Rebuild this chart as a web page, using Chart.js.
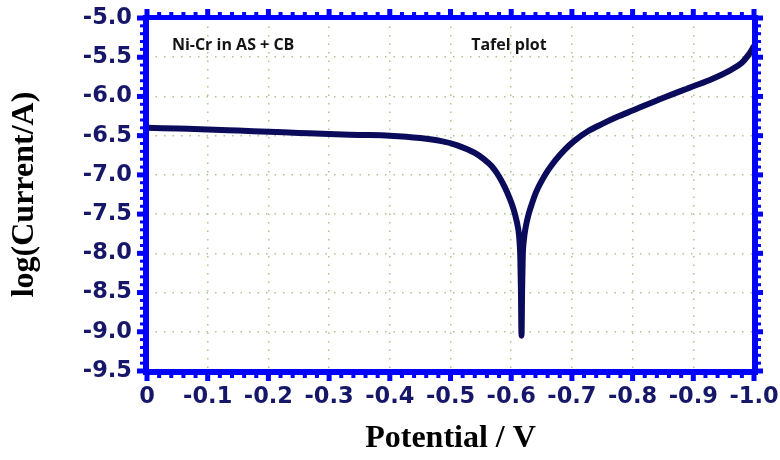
<!DOCTYPE html>
<html>
<head>
<meta charset="utf-8">
<script src="https://cdn.jsdelivr.net/npm/chart.js@4.4.1/dist/chart.umd.min.js"></script>
<style>
  html, body { margin: 0; padding: 0; background: #fff; }
  #wrap { width: 780px; height: 460px; }
</style>
</head>
<body>
<div id="wrap"><canvas id="tafel" width="780" height="460"></canvas></div>
<script>
// values
const potential = [0, -0.05, -0.1, -0.15, -0.2, -0.25, -0.3, -0.35, -0.4, -0.45, -0.485, -0.51, -0.54, -0.555, -0.568, -0.58, -0.589, -0.597, -0.604, -0.609, -0.613, -0.615, -0.616, -0.617,
                   -0.618, -0.619, -0.621, -0.624, -0.628, -0.634, -0.641, -0.65, -0.66, -0.672, -0.688, -0.705, -0.725, -0.75, -0.775, -0.8, -0.85, -0.9, -0.93, -0.96, -0.98, -0.99, -1.0];
const logCurrent = [-6.40, -6.41, -6.42, -6.435, -6.45, -6.465, -6.48, -6.49, -6.50, -6.53, -6.57, -6.62, -6.72, -6.80, -6.89, -7.02, -7.15, -7.29, -7.44, -7.59, -7.78, -8.05, -8.45, -9.05,
                    -8.45, -8.05, -7.82, -7.66, -7.52, -7.37, -7.22, -7.08, -6.95, -6.82, -6.68, -6.56, -6.45, -6.35, -6.26, -6.18, -6.02, -5.87, -5.78, -5.67, -5.57, -5.48, -5.36];
const xTickValues = [0, -0.1, -0.2, -0.3, -0.4, -0.5, -0.6, -0.7, -0.8, -0.9, -1.0];
const yTickValues = [-9.5, -9.0, -8.5, -8.0, -7.5, -7.0, -6.5, -6.0, -5.5, -5.0];
const notes = [
  { text: 'Ni-Cr in AS + CB', x: -0.041, y: -5.345 },
  { text: 'Tafel plot', x: -0.534, y: -5.345 }
];

const frameBlue = '#0000ff';
const navy = '#17176a';

// thick blue frame with ticks on all four sides
const framePlugin = {
  id: 'frame',
  afterDatasetsDraw(chart) {
    const { ctx, chartArea: a, scales } = chart;
    const xs = scales.x, ys = scales.y;
    ctx.save();
    ctx.fillStyle = frameBlue;
    ctx.fillRect(a.left - 4, a.top - 3, 6, a.bottom - a.top + 6);
    ctx.fillRect(a.right - 2, a.top - 3, 6, a.bottom - a.top + 6);
    ctx.fillRect(a.left - 4, a.top - 3, a.right - a.left + 8, 5);
    ctx.fillRect(a.left - 4, a.bottom - 2, a.right - a.left + 8, 6);

    const sub = 5;
    for (let i = 0; i < xTickValues.length; i++) {
      const px = xs.getPixelForValue(xTickValues[i]);
      ctx.fillRect(px - 2.5, a.bottom, 5, 10);
      ctx.fillRect(px - 2.5, a.top - 9, 5, 9);
      if (i < xTickValues.length - 1) {
        const step = (xTickValues[i + 1] - xTickValues[i]) / sub;
        for (let k = 1; k < sub; k++) {
          const mx = xs.getPixelForValue(xTickValues[i] + step * k);
          ctx.fillRect(mx - 2, a.bottom, 4, 7);
          ctx.fillRect(mx - 2, a.top - 6, 4, 6);
        }
      }
    }
    for (let i = 0; i < yTickValues.length; i++) {
      const py = ys.getPixelForValue(yTickValues[i]);
      ctx.fillRect(a.left - 10, py - 2.5, 10, 5);
      ctx.fillRect(a.right, py - 2.5, 9, 5);
      if (i < yTickValues.length - 1) {
        const step = (yTickValues[i + 1] - yTickValues[i]) / sub;
        for (let k = 1; k < sub; k++) {
          const my = ys.getPixelForValue(yTickValues[i] + step * k);
          ctx.fillRect(a.left - 7, my - 1.5, 7, 3);
          ctx.fillRect(a.right, my - 1.5, 7, 3);
        }
      }
    }

    ctx.fillStyle = '#141414';
    ctx.font = 'bold 16px "Open Sans"';
    ctx.textBaseline = 'middle';
    notes.forEach(n => {
      ctx.fillText(n.text, xs.getPixelForValue(n.x), ys.getPixelForValue(n.y));
    });
    ctx.restore();
  }
};

new Chart(document.getElementById('tafel'), {
  type: 'line',
  data: {
    datasets: [{
      data: potential.map((p, i) => ({ x: p, y: logCurrent[i] })),
      borderColor: '#0b0b5c',
      borderWidth: 6,
      pointRadius: 0,
      cubicInterpolationMode: 'monotone',
      borderCapStyle: 'round',
      borderJoinStyle: 'round',
      fill: false
    }]
  },
  options: {
    responsive: false,
    animation: false,
    layout: { padding: { top: 18, right: 26, left: 0, bottom: 0 } },
    plugins: { legend: { display: false }, tooltip: { enabled: false } },
    scales: {
      x: {
        type: 'linear',
        min: -1.0,
        max: 0,
        reverse: true,
        afterBuildTicks: s => { s.ticks = xTickValues.map(v => ({ value: v })); },
        afterFit: s => { s.height = 89; s.paddingLeft = 0; s.paddingRight = 0; },
        ticks: {
          color: navy,
          font: { family: 'DejaVu Sans', weight: 'bold', size: 22.5 },
          padding: 13,
          maxRotation: 0,
          autoSkip: false,
          callback: v => (v === 0 ? '0' : v.toFixed(1))
        },
        grid: { color: '#a9c78f', lineWidth: 1.5, drawTicks: false },
        border: { display: false, dash: [1.5, 7] },
        title: {
          display: true,
          text: 'Potential / V',
          color: '#000',
          font: { family: 'Liberation Serif', weight: 'bold', size: 32, lineHeight: 1.2 },
          padding: { top: 0, bottom: 2 }
        }
      },
      y: {
        type: 'linear',
        min: -9.5,
        max: -5.0,
        afterBuildTicks: s => { s.ticks = yTickValues.map(v => ({ value: v })); },
        afterFit: s => { s.width = 147; s.paddingTop = 0; s.paddingBottom = 0; },
        ticks: {
          color: navy,
          font: { family: 'DejaVu Sans', weight: 'bold', size: 22.5 },
          padding: 15,
          autoSkip: false,
          callback: v => v.toFixed(1)
        },
        grid: { color: '#a9c78f', lineWidth: 1.5, drawTicks: false },
        border: { display: false, dash: [1.5, 7] },
        title: {
          display: true,
          text: 'log(Current/A)',
          color: '#000',
          font: { family: 'Liberation Serif', weight: 'bold', size: 32, lineHeight: 1.2 },
          padding: { top: 6, bottom: 0 }
        }
      }
    }
  },
  plugins: [framePlugin]
});
</script>
</body>
</html>
